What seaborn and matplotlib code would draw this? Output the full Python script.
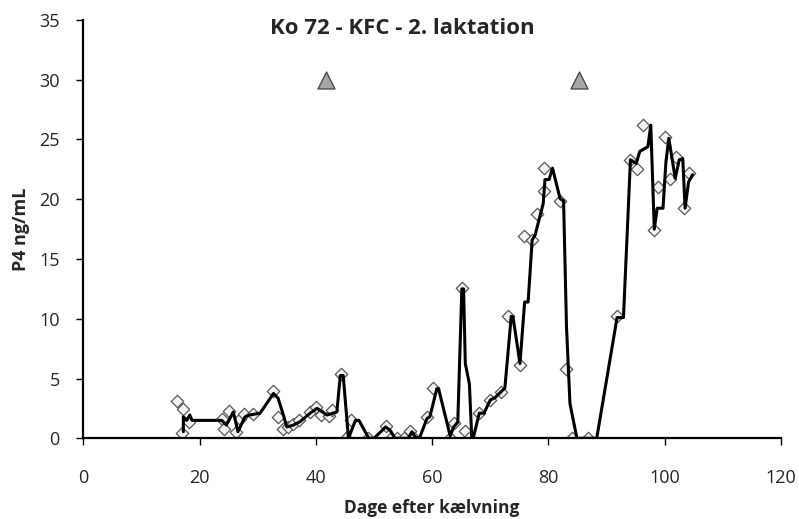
import numpy as np
import pandas as pd
import matplotlib
matplotlib.use("Agg")
import matplotlib.pyplot as plt
import seaborn as sns

# Measured P4 (diamonds)
days_meas = [16.1, 16.9, 17.2, 18.1, 23.8, 24.2, 25.0, 26.2, 26.9, 27.7, 29.2,
             32.6, 33.5, 34.3, 35.2, 36.1, 37.1, 39.0, 40.0, 40.9, 42.2, 42.8,
             44.3, 45.2, 46.1, 49.0, 52.0, 53.0, 54.0, 55.1, 56.2, 56.9, 59.1,
             60.1, 63.1, 63.7, 65.1, 65.7, 66.3, 68.1, 70.0, 71.9, 73.0, 75.1,
             75.8, 77.2, 78.0, 79.2, 79.3, 82.0, 83.0, 84.1, 86.8, 91.8, 94.1,
             95.2, 96.3, 98.2, 98.9, 100.0, 100.9, 102.0, 103.3, 104.2]
p4_meas = [3.1, 0.45, 2.45, 1.4, 1.6, 0.75, 2.3, 0.5, 1.6, 2.0, 2.0,
           3.95, 1.8, 0.75, 0.95, 1.2, 1.55, 2.2, 2.65, 1.95, 1.9, 2.35,
           5.35, 0.0, 1.55, 0.0, 1.0, 0.0, 0.0, 0.0, 0.6, 0.0, 1.75,
           4.2, 0.0, 1.3, 12.6, 0.6, 0.0, 2.1, 3.2, 3.85, 10.2, 6.1,
           16.9, 16.6, 18.8, 20.65, 22.6, 19.85, 5.8, 0.0, 0.0, 10.2, 23.3,
           22.5, 26.2, 17.4, 21.05, 25.2, 21.7, 23.5, 19.25, 22.2]

# Second P4 series (solid line)
days_line = [17.2, 17.2, 17.8, 18.3, 18.7, 23.8, 24.6, 25.8, 26.6, 27.8, 28.6,
             30.4, 32.7, 33.5, 34.4, 35.0, 36.1, 37.3, 39.0, 40.2, 41.9, 43.6,
             44.2, 44.7, 45.6, 46.8, 47.4, 49.1, 50.0, 52.0, 52.8, 53.6, 55.9,
             56.5, 57.1, 57.8, 59.1, 59.6, 60.8, 61.1, 63.1, 63.7, 64.4, 65.1,
             65.4, 65.7, 66.4, 66.8, 67.1, 68.1, 68.9, 70.0, 70.8, 72.5, 73.6,
             73.9, 75.1, 75.9, 76.5, 77.2, 77.7, 79.1, 79.4, 80.1, 80.7, 82.0,
             82.6, 83.1, 83.7, 84.9, 88.3, 91.8, 92.9, 94.1, 95.1, 95.7, 97.1,
             97.6, 98.2, 98.7, 99.7, 100.2, 100.7, 101.8, 102.5, 103.1, 103.5,
             104.1, 104.8]
p4_line = [0.55, 1.8, 1.5, 1.95, 1.5, 1.5, 1.1, 2.2, 0.55, 1.8, 1.95,
           2.1, 3.75, 3.35, 1.95, 0.95, 1.1, 1.4, 2.1, 2.5, 1.95, 2.2,
           5.25, 5.25, 0.0, 1.5, 1.5, 0.0, 0.0, 0.95, 0.65, 0.0, 0.0,
           0.55, 0.1, 0.0, 1.65, 1.8, 4.15, 4.15, 0.2, 0.95, 1.35, 12.5,
           12.5, 6.25, 4.55, 0.1, 0.1, 2.1, 2.1, 3.2, 3.4, 4.2, 10.2,
           10.15, 6.25, 11.4, 11.4, 16.6, 17.0, 19.65, 21.65, 21.65, 22.6, 20.05,
           19.85, 9.35, 2.9, 0.0, 0.0, 10.1, 10.1, 23.3, 23.0, 24.0, 24.4,
           26.2, 17.5, 19.25, 19.25, 23.1, 25.1, 21.75, 23.3, 23.4, 19.25,
           21.45, 22.05]

# Event markers (triangles)
days_event = [41.7, 85.3]
y_event = [30, 30]

title = "Ko 72 - KFC - 2. laktation"
xlabel = "Dage efter kælvning"
ylabel = "P4 ng/mL"

sns.set_theme(style="white")
plt.rcParams['font.family'] = ['Open Sans', 'DejaVu Sans']
plt.rcParams['xtick.major.pad'] = 17
plt.rcParams['ytick.major.pad'] = 12

fig = plt.figure(figsize=(7.99, 5.19), dpi=100)
ax = fig.add_axes([0.1043, 0.1555, 0.8732, 0.806])

df_line = pd.DataFrame({"day": days_line, "p4": p4_line})
df_meas = pd.DataFrame({"day": days_meas, "p4": p4_meas})
df_ev = pd.DataFrame({"day": days_event, "y": y_event})

sns.scatterplot(data=df_meas, x="day", y="p4", marker="D", s=40,
                color="#f2f2f2", edgecolor="#595959", linewidth=0.9, ax=ax, zorder=2)
sns.lineplot(data=df_line, x="day", y="p4", sort=False, estimator=None,
             color="black", linewidth=2.2, ax=ax, zorder=3)
sns.scatterplot(data=df_ev, x="day", y="y", marker="^", s=150,
                color="#a6a6a6", edgecolor="#404040", linewidth=0.9, ax=ax, zorder=4)

ax.set_xlim(0, 120)
ax.set_ylim(0, 35)
ax.set_xticks(range(0, 121, 20))
ax.set_yticks(range(0, 36, 5))
for s in ["top", "right"]:
    ax.spines[s].set_visible(False)
for s in ["left", "bottom"]:
    ax.spines[s].set_color("black")
    ax.spines[s].set_linewidth(1.6)
ax.tick_params(axis="x", direction="out", length=5, width=1, color="black",
               labelsize=13, pad=17, bottom=True)
ax.tick_params(axis="y", direction="out", length=5, width=1, color="black",
               labelsize=13, pad=12, left=True)
for t in ax.xaxis.get_major_ticks():
    t.set_pad(17)
ax.grid(False)
ax.set_xlabel(xlabel, fontsize=12.5, fontweight="bold")
ax.set_ylabel(ylabel, fontsize=13, fontweight="bold")
ax.xaxis.set_label_coords(0.5, -0.189)
ax.xaxis.label.set_verticalalignment("bottom")
ax.yaxis.set_label_coords(-0.076, 0.5)

fig.text(0.503, 0.945, title, ha="center", va="center", fontsize=16, fontweight="bold")

fig.savefig("out.png", dpi=100, facecolor="white")
